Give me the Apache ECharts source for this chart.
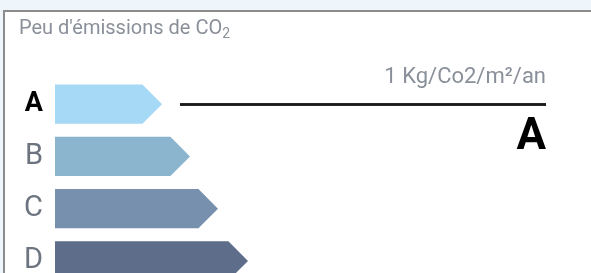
<!DOCTYPE html>
<html>
<head>
<meta charset="utf-8">
<script src="https://cdn.jsdelivr.net/npm/echarts@6/dist/echarts.min.js"></script>
<style>
    html, body { margin: 0; padding: 0; width: 591px; height: 273px; overflow: hidden; background: #eef6fc; }
    .card { position: absolute; left: 3px; top: 10px; width: 700px; height: 400px; background: #fff; border: 2px solid #8c8c8c; box-sizing: border-box; }
    #chart { position: absolute; left: 0; top: 0; width: 591px; height: 300px; }
</style>
</head>
<body>
<div class="card"></div>
<div id="chart"></div>
<script>
// classes and bar lengths (in px-like units)
var classes = ['A', 'B', 'C', 'D']
var barLengths = [107, 135, 163, 193]
var barColors = ['#a6d9f6', '#8bb5cf', '#7690ad', '#5e6e8a']
var currentClass = 'A'
var currentValue = '1 Kg/Co2/m²/an'
var lineStart = 125
var lineEnd = 491

var myChart = echarts.init(document.getElementById('chart'))

var option = {
    title: {
        text: "Peu d'émissions de CO{sub|2}",
        left: 14,
        top: 12,
        textStyle: {
            fontFamily: 'Roboto',
            fontSize: 20,
            fontWeight: 'normal',
            color: '#8a9099',
            rich: {
                sub: { fontSize: 14, color: '#8a9099', padding: [10, 0, 0, 0], fontFamily: 'Roboto' },
            },
        },
    },
    grid: { left: 55, right: 0, top: 78, bottom: 13 },
    xAxis: { type: 'value', min: 0, max: 536, show: false },
    yAxis: {
        type: 'category',
        inverse: true,
        data: classes,
        axisLine: { show: false },
        axisTick: { show: false },
        axisLabel: {
            margin: 12,
            formatter: function (v) {
                return v === currentClass ? '{cur|' + v + '}' : '{other|' + v + '}'
            },
            rich: {
                cur: { fontFamily: 'Roboto', fontSize: 27, fontWeight: 'bold', color: '#000' },
                other: { fontFamily: 'Roboto', fontSize: 29, color: '#6c7480' },
            },
        },
    },
    series: [
        {
            type: 'custom',
            renderItem: function (params, api) {
                var idx = api.value(0)
                var end = api.coord([api.value(1), idx])
                var start = api.coord([0, idx])
                var h = api.size([0, 1])[1] * 0.75
                var tip = h / 2
                var y0 = end[1] - h / 2
                var y1 = end[1] + h / 2
                return {
                    type: 'polygon',
                    shape: {
                        points: [
                            [start[0], y0],
                            [end[0] - tip, y0],
                            [end[0], end[1]],
                            [end[0] - tip, y1],
                            [start[0], y1],
                        ],
                    },
                    style: { fill: barColors[idx] },
                }
            },
            encode: { x: 1, y: 0 },
            data: barLengths.map(function (v, i) {
                return [i, v]
            }),
            markLine: {
                symbol: 'none',
                silent: true,
                lineStyle: { color: '#1a1a1a', width: 2.5, type: 'solid' },
                data: [
                    [
                        {
                            coord: [lineStart, currentClass],
                            label: {
                                show: true,
                                position: 'insideEndTop',
                                formatter: currentValue,
                                fontFamily: 'Roboto',
                                fontSize: 22,
                                color: '#8a9099',
                                distance: [0, 16],
                            },
                        },
                        { coord: [lineEnd, currentClass] },
                    ],
                    [
                        {
                            coord: [lineStart, currentClass],
                            label: {
                                show: true,
                                position: 'insideEndBottom',
                                formatter: currentClass,
                                fontFamily: 'Roboto',
                                fontSize: 44,
                                fontWeight: 'bold',
                                color: '#000',
                                distance: [0, 12],
                            },
                        },
                        { coord: [lineEnd, currentClass] },
                    ],
                ],
            },
        },
    ],
}
myChart.setOption(option)
</script>
</body>
</html>
